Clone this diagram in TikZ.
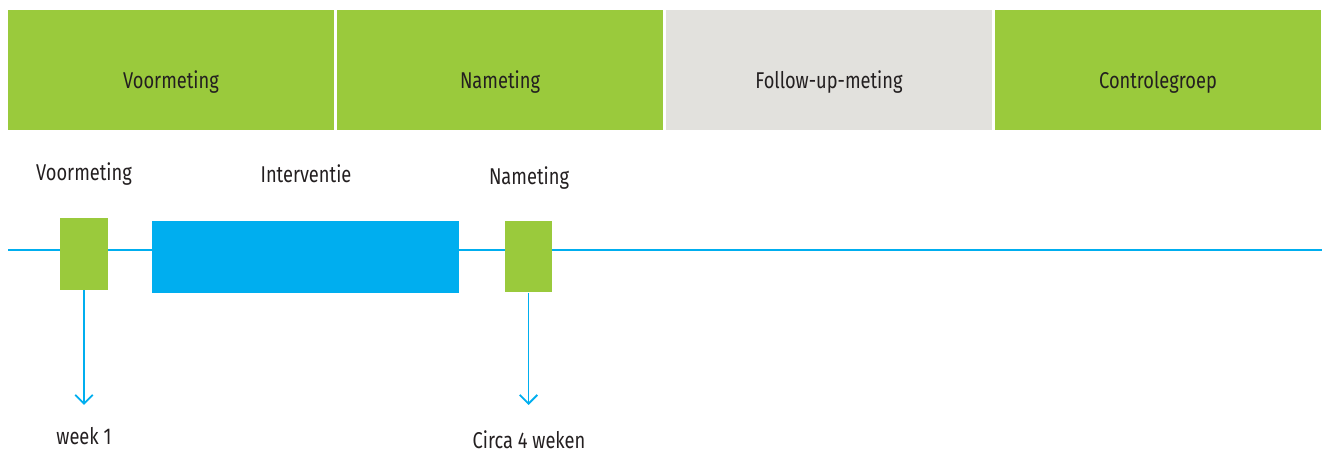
\documentclass[tikz,border=0pt]{standalone}
\usepackage{fontspec}
\setmainfont{Fira Sans}[FakeStretch=0.8]
\usetikzlibrary{arrows.meta,positioning}
\definecolor{tlgreen}{RGB}{154,202,60}
\definecolor{tlblue}{RGB}{0,174,239}
\definecolor{tlgrey}{RGB}{226,225,221}
\definecolor{tltext}{RGB}{35,31,32}

\begin{document}
\begin{tikzpicture}[x=0.02cm,y=-0.02cm,
  phase/.style={fill=tlgreen,minimum width=6.52cm,minimum height=2.4cm,inner sep=0pt,
    text height=0.76cm,text depth=0pt,font=\fontsize{13}{15}\selectfont,text=tltext},
  meet/.style={fill=tlgreen,minimum width=0.95cm,minimum height=1.43cm,inner sep=0pt},
  lbl/.style={anchor=base,inner sep=0pt,font=\fontsize{13}{15}\selectfont,text=tltext},
  tick/.style={tlblue,line width=1.1pt,-{Straight Barb[length=5pt,width=10pt]}}]
  \useasboundingbox (0,0) rectangle (1322,455);
  % header
  \node[phase] (voor) at (171,70) {Voormeting};
  \node[phase] (na) at (500,70) {Nameting};
  \node[phase,fill=tlgrey] (follow) at (829,70) {Follow-up-meting};
  \node[phase] (contr) at (1158,70) {Controlegroep};
  % timeline
  \coordinate (tstart) at (8,250);
  \coordinate (tend) at (1322,250);
  \draw[tlblue,line width=1.1pt] (tstart) -- (tend);
  \node[meet] (m1) at (84,254) {};
  \node[fill=tlblue,minimum width=6.14cm,minimum height=1.44cm,inner sep=0pt] (int) at (305.5,257) {};
  \node[meet] (m2) at (528.5,256.5) {};
  \node[lbl] (m1lbl) at (84,181) {Voormeting};
  \node[lbl] (intlbl) at (306,183) {Interventie};
  \node[lbl] (m2lbl) at (529,185) {Nameting};
  % weeks
  \coordinate (w1) at (84,405);
  \coordinate (w4) at (528.5,405);
  \draw[tick] (m1.south) -- (w1);
  \draw[tick] (m2.south) -- (w4);
  \node[lbl] (w1lbl) at (84,445) {week 1};
  \node[lbl] (w4lbl) at (529,449) {Circa 4 weken};
\end{tikzpicture}
\end{document}
